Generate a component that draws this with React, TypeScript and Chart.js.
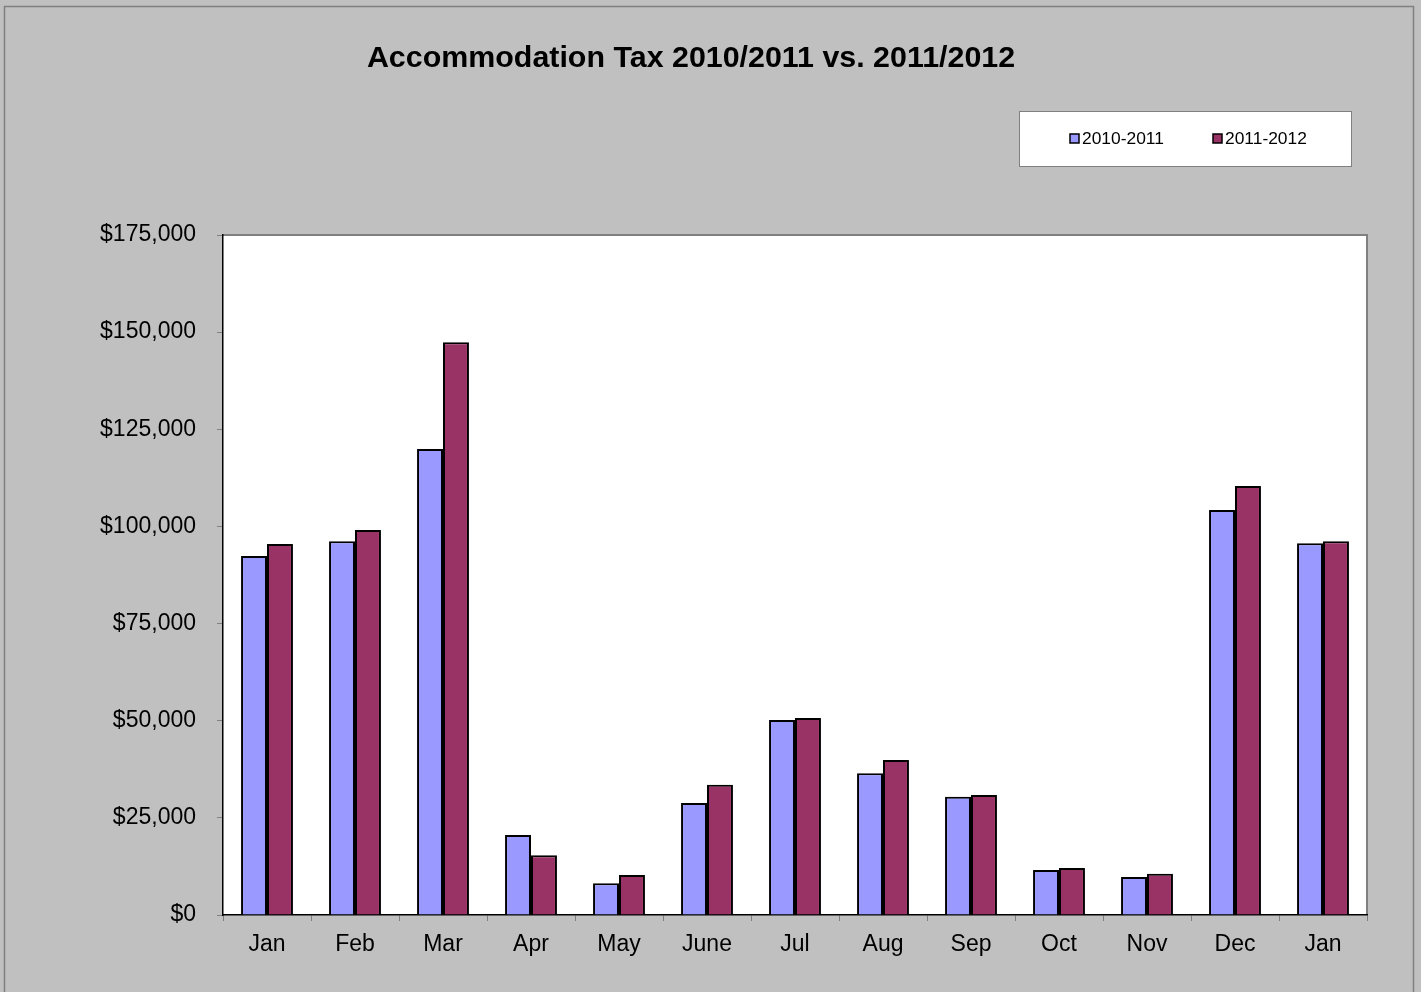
import React, { useEffect, useRef } from 'react';
import { Chart, registerables } from 'chart.js';

Chart.register(...registerables);

const categories = ['Jan', 'Feb', 'Mar', 'Apr', 'May', 'June', 'Jul', 'Aug', 'Sep', 'Oct', 'Nov', 'Dec', 'Jan'];
const series2010 = [92400, 96200, 119900, 20600, 8200, 28800, 50200, 36500, 30400, 11600, 9800, 104200, 95700];
const series2011 = [95500, 99100, 147400, 15400, 10300, 33500, 50700, 39900, 30900, 12100, 10600, 110400, 96200];
const seriesLabels = ['2010-2011', '2011-2012'];
const seriesColors = ['#9999FF', '#993366'];
const titleText = 'Accommodation Tax 2010/2011 vs. 2011/2012';
const yMin = 0;
const yMax = 175000;
const yStep = 25000;

const FONT = '"Liberation Sans", Arial, sans-serif';

const decorPlugin = {
  id: 'decor',
  beforeDraw(chart: any) {
    const { ctx, width, height, chartArea } = chart;
    ctx.save();
    ctx.fillStyle = '#C0C0C0';
    ctx.fillRect(0, 0, width, height);
    ctx.strokeStyle = '#808080';
    ctx.lineWidth = 1.5;
    ctx.strokeRect(4.5, 6.5, 1409, height + 20);
    ctx.fillStyle = '#FFFFFF';
    ctx.fillRect(chartArea.left, chartArea.top, chartArea.right - chartArea.left, chartArea.bottom - chartArea.top);
    ctx.strokeStyle = '#808080';
    ctx.lineWidth = 2;
    ctx.beginPath();
    ctx.moveTo(chartArea.left, chartArea.top);
    ctx.lineTo(chartArea.right, chartArea.top);
    ctx.lineTo(chartArea.right, chartArea.bottom);
    ctx.stroke();
    ctx.restore();
  },
  afterDraw(chart: any) {
    const { ctx } = chart;
    ctx.save();
    // title
    ctx.fillStyle = '#000';
    ctx.font = `bold 30.4px ${FONT}`;
    ctx.textAlign = 'center';
    ctx.textBaseline = 'middle';
    ctx.fillText(titleText, 691, 59);
    // legend box
    ctx.fillStyle = '#FFFFFF';
    ctx.fillRect(1019, 111, 332, 55);
    ctx.strokeStyle = '#808080';
    ctx.lineWidth = 1;
    ctx.strokeRect(1019.5, 111.5, 332, 55);
    const itemX = [1070, 1213];
    chart.data.datasets.forEach((ds: any, i: number) => {
      const x = itemX[i];
      ctx.fillStyle = ds.backgroundColor;
      ctx.fillRect(x, 134, 9, 9);
      ctx.strokeStyle = '#000';
      ctx.lineWidth = 1.5;
      ctx.strokeRect(x, 134, 9, 9);
      ctx.fillStyle = '#000';
      ctx.font = `17.4px ${FONT}`;
      ctx.textAlign = 'left';
      ctx.textBaseline = 'middle';
      ctx.fillText(ds.label, x + 12, 139);
    });
    ctx.restore();
  },
};

export default function App() {
  const ref = useRef<HTMLCanvasElement>(null);
  useEffect(() => {
    document.body.style.margin = '0';
    const canvas = ref.current!;
    const chart = new Chart(canvas, {
      type: 'bar',
      data: {
        labels: categories,
        datasets: [
          {
            label: seriesLabels[0],
            data: series2010,
            backgroundColor: seriesColors[0],
            borderColor: '#000',
            borderWidth: 2,
            categoryPercentage: 0.59,
            barPercentage: 1,
          },
          {
            label: seriesLabels[1],
            data: series2011,
            backgroundColor: seriesColors[1],
            borderColor: '#000',
            borderWidth: 2,
            categoryPercentage: 0.59,
            barPercentage: 1,
          },
        ],
      },
      options: {
        responsive: false,
        animation: false,
        devicePixelRatio: 1,
        layout: { padding: { top: 235, right: 54, left: 0, bottom: 0 } },
        plugins: {
          legend: { display: false },
          title: { display: false },
          tooltip: { enabled: false },
        },
        scales: {
          x: {
            grid: { drawOnChartArea: false, tickLength: 6, color: '#808080', offset: true },
            border: { color: '#000', width: 1.5 },
            ticks: { color: '#000', font: { family: FONT, size: 23 }, padding: 10, maxRotation: 0, autoSkip: false },
            afterFit(scale: any) {
              scale.height = 77;
            },
          },
          y: {
            min: yMin,
            max: yMax,
            grid: { drawOnChartArea: false, tickLength: 6, color: '#808080' },
            border: { color: '#000', width: 1.5 },
            ticks: {
              stepSize: yStep,
              color: '#000',
              font: { family: FONT, size: 23 },
              padding: 21,
              callback: (v: any) => '$' + Number(v).toLocaleString('en-US'),
            },
            afterFit(scale: any) {
              scale.width = 223;
            },
          },
        },
      },
      plugins: [decorPlugin],
    });
    return () => chart.destroy();
  }, []);
  return (
    <div style={{ width: 1421, height: 992 }}>
      <canvas ref={ref} width={1421} height={992} style={{ display: 'block' }} />
    </div>
  );
}
